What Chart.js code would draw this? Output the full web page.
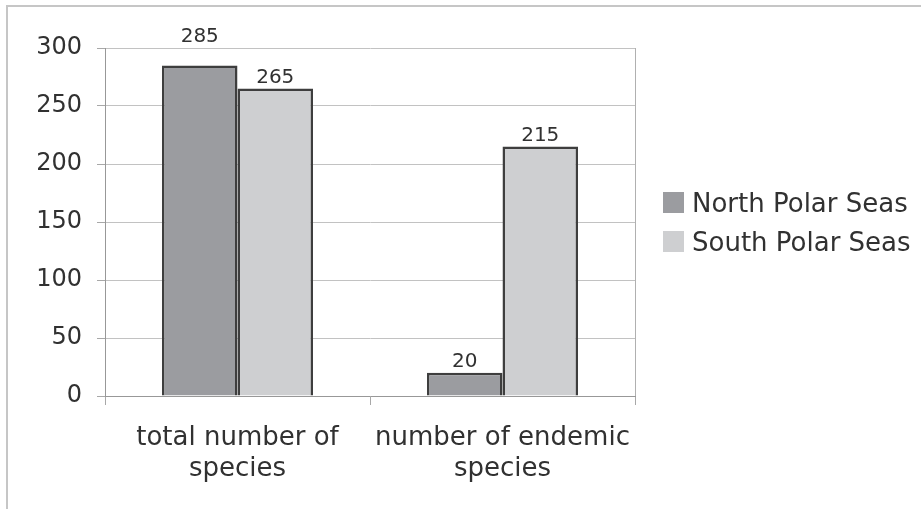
<!DOCTYPE html>
<html>
<head>
<meta charset="utf-8">
<title>Species in polar seas</title>
<script src="https://cdn.jsdelivr.net/npm/chart.js@4/dist/chart.umd.min.js"></script>
<style>
  html, body { margin: 0; padding: 0; background: #ffffff; }
  #wrap { width: 921px; height: 509px; position: relative; }
</style>
</head>
<body>
<div id="wrap"><canvas id="chart" width="921" height="509"></canvas></div>
<script>
// Categories (two-line axis labels)
const categories = [["total number of", "species"], ["number of endemic", "species"]];
// Series values
const northPolarSeas = [285, 20];
const southPolarSeas = [265, 215];
// Series names
const seriesNames = ["North Polar Seas", "South Polar Seas"];
// Value axis ticks
const yTicks = [0, 50, 100, 150, 200, 250, 300];

const FONT = "'DejaVu Sans', Verdana, sans-serif";
const TEXT = "#313131";

// Outer frame of the figure
const framePlugin = {
  id: "frame",
  beforeDraw(chart) {
    const ctx = chart.ctx;
    ctx.save();
    ctx.strokeStyle = "#c6c6c6";
    ctx.lineWidth = 2;
    ctx.beginPath();
    ctx.moveTo(7, 520);
    ctx.lineTo(7, 6);
    ctx.lineTo(921, 6);
    ctx.stroke();
    ctx.restore();
  }
};

// Right edge of the plot area
const plotBorderPlugin = {
  id: "plotBorder",
  afterDatasetsDraw(chart) {
    const { ctx, chartArea } = chart;
    ctx.save();
    ctx.strokeStyle = "#b0b0b0";
    ctx.lineWidth = 1;
    ctx.beginPath();
    ctx.moveTo(Math.round(chartArea.right) + 0.5, chartArea.top);
    ctx.lineTo(Math.round(chartArea.right) + 0.5, chartArea.bottom);
    ctx.stroke();
    ctx.restore();
  }
};

// Value labels above each bar
const valueLabelPlugin = {
  id: "valueLabels",
  afterDatasetsDraw(chart) {
    const { ctx } = chart;
    ctx.save();
    ctx.font = "20px " + FONT;
    ctx.fillStyle = TEXT;
    ctx.textAlign = "center";
    ctx.textBaseline = "alphabetic";
    const topGrid = chart.scales.y.getPixelForValue(chart.scales.y.max);
    chart.data.datasets.forEach((ds, di) => {
      const meta = chart.getDatasetMeta(di);
      meta.data.forEach((bar, i) => {
        let y = bar.y - 6;
        // keep the label clear of the top gridline
        if (y - 15 < topGrid + 2 && y > topGrid - 2) y = topGrid - 6;
        ctx.fillText(String(ds.data[i]), bar.x, y);
      });
    });
    ctx.restore();
  }
};

// Legend on the right
const legendPlugin = {
  id: "sideLegend",
  afterDraw(chart) {
    const ctx = chart.ctx;
    ctx.save();
    ctx.font = "26px " + FONT;
    ctx.textBaseline = "alphabetic";
    ctx.textAlign = "left";
    const x0 = 663, y0 = 213, step = 39, box = 21;
    chart.data.datasets.forEach((ds, i) => {
      const base = y0 + i * step;
      ctx.fillStyle = ds.backgroundColor;
      ctx.fillRect(x0, base - box, box, box);
      ctx.fillStyle = TEXT;
      ctx.fillText(ds.label, x0 + 29, base - 1);
    });
    ctx.restore();
  }
};

new Chart(document.getElementById("chart"), {
  type: "bar",
  data: {
    labels: categories,
    datasets: [
      {
        label: seriesNames[0],
        data: northPolarSeas,
        backgroundColor: "#9b9ca0",
        borderColor: "#3e3e3e",
        borderWidth: 2.5
      },
      {
        label: seriesNames[1],
        data: southPolarSeas,
        backgroundColor: "#cecfd1",
        borderColor: "#3e3e3e",
        borderWidth: 2.5
      }
    ]
  },
  options: {
    responsive: false,
    animation: false,
    devicePixelRatio: 1,
    categoryPercentage: 0.57,
    barPercentage: 1.0,
    layout: { padding: { left: 0, top: 48, right: 286, bottom: 0 } },
    plugins: {
      legend: { display: false },
      tooltip: { enabled: false }
    },
    scales: {
      x: {
        offset: true,
        grid: {
          offset: true,
          drawOnChartArea: false,
          drawTicks: true,
          tickLength: 9,
          color: "#a8a8a8"
        },
        border: { color: "#989898", width: 1 },
        ticks: {
          color: TEXT,
          font: { family: FONT, size: 26, lineHeight: 1.22 },
          padding: 17,
          maxRotation: 0,
          autoSkip: false
        },
        afterFit(scale) { scale.height = 113; }
      },
      y: {
        min: 0,
        max: 300,
        afterBuildTicks(scale) { scale.ticks = yTicks.map(v => ({ value: v })); },
        grid: {
          color: "#c2c2c2",
          lineWidth: 1,
          drawTicks: true,
          tickLength: 8,
          tickColor: "#a8a8a8"
        },
        border: { color: "#989898", width: 1 },
        ticks: {
          color: TEXT,
          font: { family: FONT, size: 24 },
          padding: 15
        },
        afterFit(scale) { scale.width = 105; }
      }
    }
  },
  plugins: [framePlugin, plotBorderPlugin, valueLabelPlugin, legendPlugin]
});
</script>
</body>
</html>
